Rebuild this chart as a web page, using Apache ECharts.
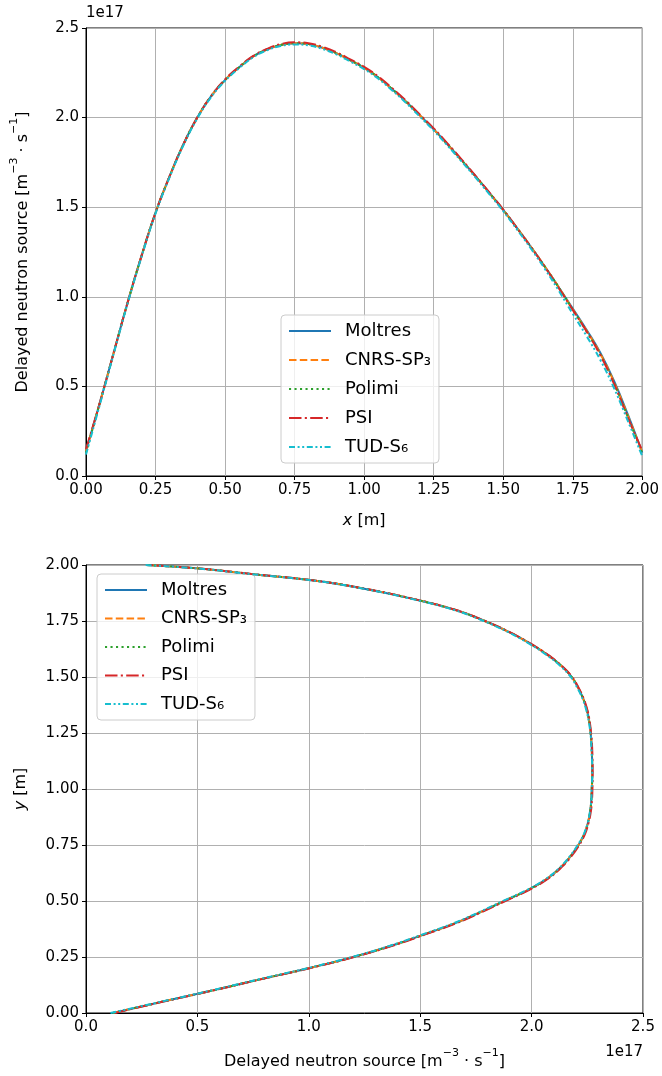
<!DOCTYPE html>
<html>
<head>
<meta charset="utf-8">
<script src="https://cdn.jsdelivr.net/npm/echarts@6/dist/echarts.min.js"></script>
<style>
  html, body { margin: 0; padding: 0; background: #ffffff; }
  #chart { width: 662px; height: 1076px; }
</style>
</head>
<body>
<div id="chart"></div>
<script>
// Delayed neutron source profiles (values in units of 1e17 m^-3 s^-1)
const seriesNames = ['Moltres', 'CNRS-SP₃', 'Polimi', 'PSI', 'TUD-S₆'];
const seriesColors = ['#1f77b4', '#ff7f0e', '#2ca02c', '#d62728', '#17becf'];

// Horizontal centreline profile: position x [m]
const topX = [0, 0.05, 0.1, 0.15, 0.2, 0.25, 0.3, 0.35, 0.4, 0.45, 0.5, 0.55, 0.6, 0.65, 0.7,
  0.75, 0.8, 0.85, 0.9, 0.95, 1.0, 1.05, 1.1, 1.15, 1.2, 1.25, 1.3, 1.35, 1.4, 1.45, 1.5,
  1.55, 1.6, 1.65, 1.7, 1.75, 1.8, 1.85, 1.9, 1.95, 2.0];
const moltresTop = [0.14, 0.41, 0.69, 0.97, 1.23, 1.47, 1.67, 1.85, 2.00, 2.12, 2.21, 2.28, 2.34, 2.38, 2.405,
  2.415, 2.41, 2.39, 2.36, 2.32, 2.278, 2.225, 2.16, 2.09, 2.013, 1.935, 1.85, 1.763, 1.673, 1.58, 1.485,
  1.383, 1.278, 1.168, 1.052, 0.935, 0.815, 0.685, 0.525, 0.335, 0.13];
const cnrsTop = [0.14, 0.41, 0.69, 0.97, 1.23, 1.47, 1.67, 1.85, 2.00, 2.12, 2.21, 2.28, 2.34, 2.38, 2.405,
  2.415, 2.41, 2.39, 2.36, 2.32, 2.278, 2.225, 2.16, 2.09, 2.013, 1.935, 1.85, 1.763, 1.673, 1.58, 1.485,
  1.383, 1.278, 1.168, 1.052, 0.93, 0.81, 0.68, 0.518, 0.328, 0.13];
const polimiTop = [0.13, 0.41, 0.69, 0.97, 1.23, 1.47, 1.67, 1.85, 2.00, 2.12, 2.21, 2.28, 2.34, 2.38, 2.405,
  2.415, 2.41, 2.39, 2.36, 2.32, 2.278, 2.225, 2.16, 2.09, 2.013, 1.935, 1.85, 1.763, 1.673, 1.58, 1.485,
  1.383, 1.278, 1.168, 1.052, 0.928, 0.806, 0.675, 0.512, 0.322, 0.125];
const psiTop = [0.15, 0.41, 0.69, 0.97, 1.23, 1.47, 1.67, 1.85, 2.00, 2.12, 2.213, 2.283, 2.343, 2.383, 2.41,
  2.42, 2.415, 2.395, 2.365, 2.325, 2.283, 2.23, 2.165, 2.095, 2.017, 1.94, 1.855, 1.767, 1.676, 1.583, 1.487,
  1.383, 1.277, 1.166, 1.048, 0.927, 0.806, 0.672, 0.508, 0.318, 0.14];
const tudTop = [0.12, 0.40, 0.685, 0.965, 1.225, 1.465, 1.665, 1.845, 1.995, 2.115, 2.205, 2.275, 2.335, 2.375, 2.40,
  2.408, 2.403, 2.383, 2.353, 2.313, 2.271, 2.218, 2.153, 2.083, 2.006, 1.928, 1.843, 1.756, 1.666, 1.573, 1.478,
  1.375, 1.268, 1.155, 1.033, 0.905, 0.78, 0.645, 0.485, 0.30, 0.11];

// Vertical centreline profile: position y [m]
const botY = [0, 0.05, 0.1, 0.15, 0.2, 0.25, 0.3, 0.35, 0.4, 0.45, 0.5, 0.55, 0.6, 0.65, 0.7,
  0.75, 0.8, 0.85, 0.9, 0.95, 1.0, 1.05, 1.1, 1.15, 1.2, 1.25, 1.3, 1.35, 1.4, 1.45, 1.5,
  1.55, 1.6, 1.65, 1.7, 1.75, 1.8, 1.85, 1.9, 1.93, 1.96, 1.985, 2.0];
const moltresBot = [0.12, 0.34, 0.565, 0.78, 1.0, 1.20, 1.37, 1.515, 1.655, 1.77, 1.877, 1.985, 2.07, 2.13, 2.175,
  2.21, 2.237, 2.253, 2.263, 2.268, 2.27, 2.272, 2.272, 2.271, 2.269, 2.265, 2.259, 2.249, 2.233, 2.21, 2.18,
  2.133, 2.07, 1.992, 1.9, 1.79, 1.655, 1.462, 1.22, 1.03, 0.74, 0.5, 0.27];
const cnrsBot = [0.12, 0.34, 0.565, 0.78, 1.0, 1.20, 1.37, 1.515, 1.655, 1.77, 1.877, 1.985, 2.07, 2.13, 2.175,
  2.21, 2.237, 2.253, 2.263, 2.268, 2.27, 2.272, 2.272, 2.271, 2.269, 2.265, 2.259, 2.249, 2.233, 2.21, 2.18,
  2.133, 2.07, 1.992, 1.9, 1.79, 1.655, 1.462, 1.22, 1.03, 0.74, 0.5, 0.27];
const polimiBot = [0.12, 0.34, 0.565, 0.78, 1.0, 1.20, 1.37, 1.515, 1.655, 1.77, 1.877, 1.985, 2.07, 2.13, 2.175,
  2.21, 2.237, 2.253, 2.263, 2.268, 2.27, 2.272, 2.272, 2.271, 2.269, 2.265, 2.259, 2.249, 2.233, 2.21, 2.18,
  2.133, 2.07, 1.992, 1.9, 1.79, 1.655, 1.462, 1.22, 1.03, 0.74, 0.5, 0.27];
const psiBot = [0.13, 0.343, 0.568, 0.784, 1.004, 1.205, 1.375, 1.52, 1.66, 1.775, 1.882, 1.99, 2.074, 2.134, 2.179,
  2.214, 2.24, 2.256, 2.266, 2.271, 2.273, 2.274, 2.274, 2.273, 2.271, 2.267, 2.261, 2.251, 2.235, 2.212, 2.182,
  2.135, 2.072, 1.994, 1.902, 1.792, 1.657, 1.464, 1.222, 1.032, 0.742, 0.502, 0.27];
const tudBot = [0.11, 0.336, 0.56, 0.774, 0.994, 1.194, 1.364, 1.508, 1.648, 1.764, 1.871, 1.98, 2.066, 2.127, 2.172,
  2.207, 2.235, 2.252, 2.262, 2.268, 2.27, 2.272, 2.272, 2.27, 2.268, 2.264, 2.257, 2.246, 2.23, 2.206, 2.176,
  2.128, 2.065, 1.987, 1.895, 1.785, 1.65, 1.457, 1.215, 1.025, 0.735, 0.495, 0.26];

// Axis ticks
const topXTicks = [0, 0.25, 0.5, 0.75, 1.0, 1.25, 1.5, 1.75, 2.0];
const topYTicks = [0, 0.5, 1.0, 1.5, 2.0, 2.5];
const botXTicks = [0, 0.5, 1.0, 1.5, 2.0, 2.5];
const botYTicks = [0, 0.25, 0.5, 0.75, 1.0, 1.25, 1.5, 1.75, 2.0];
const offsetLabel = '1e17';

const topProfiles = [moltresTop, cnrsTop, polimiTop, psiTop, tudTop];
const botProfiles = [moltresBot, cnrsBot, polimiBot, psiBot, tudBot];

// Line dash patterns: solid, dashed, dotted, dash-dot, dash-dot-dot
const dashTypes = ['solid', [7.5, 3.3], [2.1, 3.4], [12.5, 3.3, 2.1, 3.3], [6, 2.6, 2, 2.6, 2, 2.6]];

const FONT = 'DejaVu Sans';
const rich = {
  n: { fontFamily: FONT, fontSize: 16, color: '#000', lineHeight: 22, verticalAlign: 'bottom' },
  i: { fontFamily: FONT, fontSize: 16, color: '#000', lineHeight: 22, verticalAlign: 'bottom', fontStyle: 'italic' },
  s: { fontFamily: FONT, fontSize: 11, color: '#000', lineHeight: 12, verticalAlign: 'top' }
};
const sourceName = '{n|Delayed neutron source [m}{s|−3}{n| · s}{s|−1}{n|]}';

function axisCommon(ticks, decimals) {
  return {
    type: 'value',
    min: ticks[0],
    max: ticks[ticks.length - 1],
    interval: ticks[1] - ticks[0],
    axisLine: { show: true, onZero: false, lineStyle: { color: '#000', width: 1 } },
    axisTick: { show: true, inside: false, length: 4, lineStyle: { color: '#000', width: 1 } },
    axisLabel: {
      fontFamily: FONT, fontSize: 15, color: '#000', margin: 7,
      formatter: v => v.toFixed(decimals), showMinLabel: true, showMaxLabel: true
    },
    splitLine: { show: true, lineStyle: { color: '#b0b0b0', width: 1 } },
    nameLocation: 'middle',
    nameTextStyle: { rich: rich }
  };
}

function lineSeries(name, k, axisIndex, data) {
  return {
    name: name, type: 'line', xAxisIndex: axisIndex, yAxisIndex: axisIndex,
    data: data,
    showSymbol: false, symbol: 'none', smooth: 0.45, z: 2 + k,
    lineStyle: { color: seriesColors[k], width: 2, type: dashTypes[k] },
    itemStyle: { color: seriesColors[k] }
  };
}

const series = [];
seriesNames.forEach((name, k) => {
  series.push(lineSeries(name, k, 0, topX.map((x, j) => [x, topProfiles[k][j]])));
});
seriesNames.forEach((name, k) => {
  series.push(lineSeries(name, k, 1, botY.map((y, j) => [botProfiles[k][j], y])));
});

const legendCommon = {
  orient: 'vertical',
  data: seriesNames,
  selectedMode: false,
  itemWidth: 42,
  itemHeight: 14,
  itemGap: 11,
  padding: [7, 8, 7, 7],
  backgroundColor: 'rgba(255,255,255,0.8)',
  borderColor: '#cccccc',
  borderWidth: 1,
  borderRadius: 4,
  itemStyle: { opacity: 0 },
  textStyle: { fontFamily: FONT, fontSize: 18, color: '#000', lineHeight: 18, padding: [0, 0, 0, 9] }
};

const option = {
  animation: false,
  backgroundColor: '#ffffff',
  grid: [
    { left: 86, right: 19, top: 28, height: 448, show: true, borderColor: '#000', borderWidth: 1, backgroundColor: 'transparent' },
    { left: 86, right: 19, top: 565, height: 448, show: true, borderColor: '#000', borderWidth: 1, backgroundColor: 'transparent' }
  ],
  xAxis: [
    Object.assign(axisCommon(topXTicks, 2), { gridIndex: 0, name: '{i|x}{n| [m]}', nameGap: 31 }),
    Object.assign(axisCommon(botXTicks, 1), { gridIndex: 1, name: sourceName, nameGap: 35 })
  ],
  yAxis: [
    Object.assign(axisCommon(topYTicks, 1), { gridIndex: 0, name: sourceName, nameGap: 55, nameRotate: 90 }),
    Object.assign(axisCommon(botYTicks, 2), { gridIndex: 1, name: '{i|y}{n| [m]}', nameGap: 57, nameRotate: 90 })
  ],
  legend: [
    Object.assign({}, legendCommon, { left: 281, top: 315 }),
    Object.assign({}, legendCommon, { left: 97, top: 574, itemGap: 10.5 })
  ],
  graphic: [
    { type: 'text', left: 86, top: 6, style: { text: offsetLabel, font: '15px "DejaVu Sans"', fill: '#000' } },
    { type: 'text', right: 19, top: 1045, style: { text: offsetLabel, font: '15px "DejaVu Sans"', fill: '#000' } }
  ],
  series: series
};

const chart = echarts.init(document.getElementById('chart'), null, { renderer: 'canvas' });
chart.setOption(option);
</script>
</body>
</html>
